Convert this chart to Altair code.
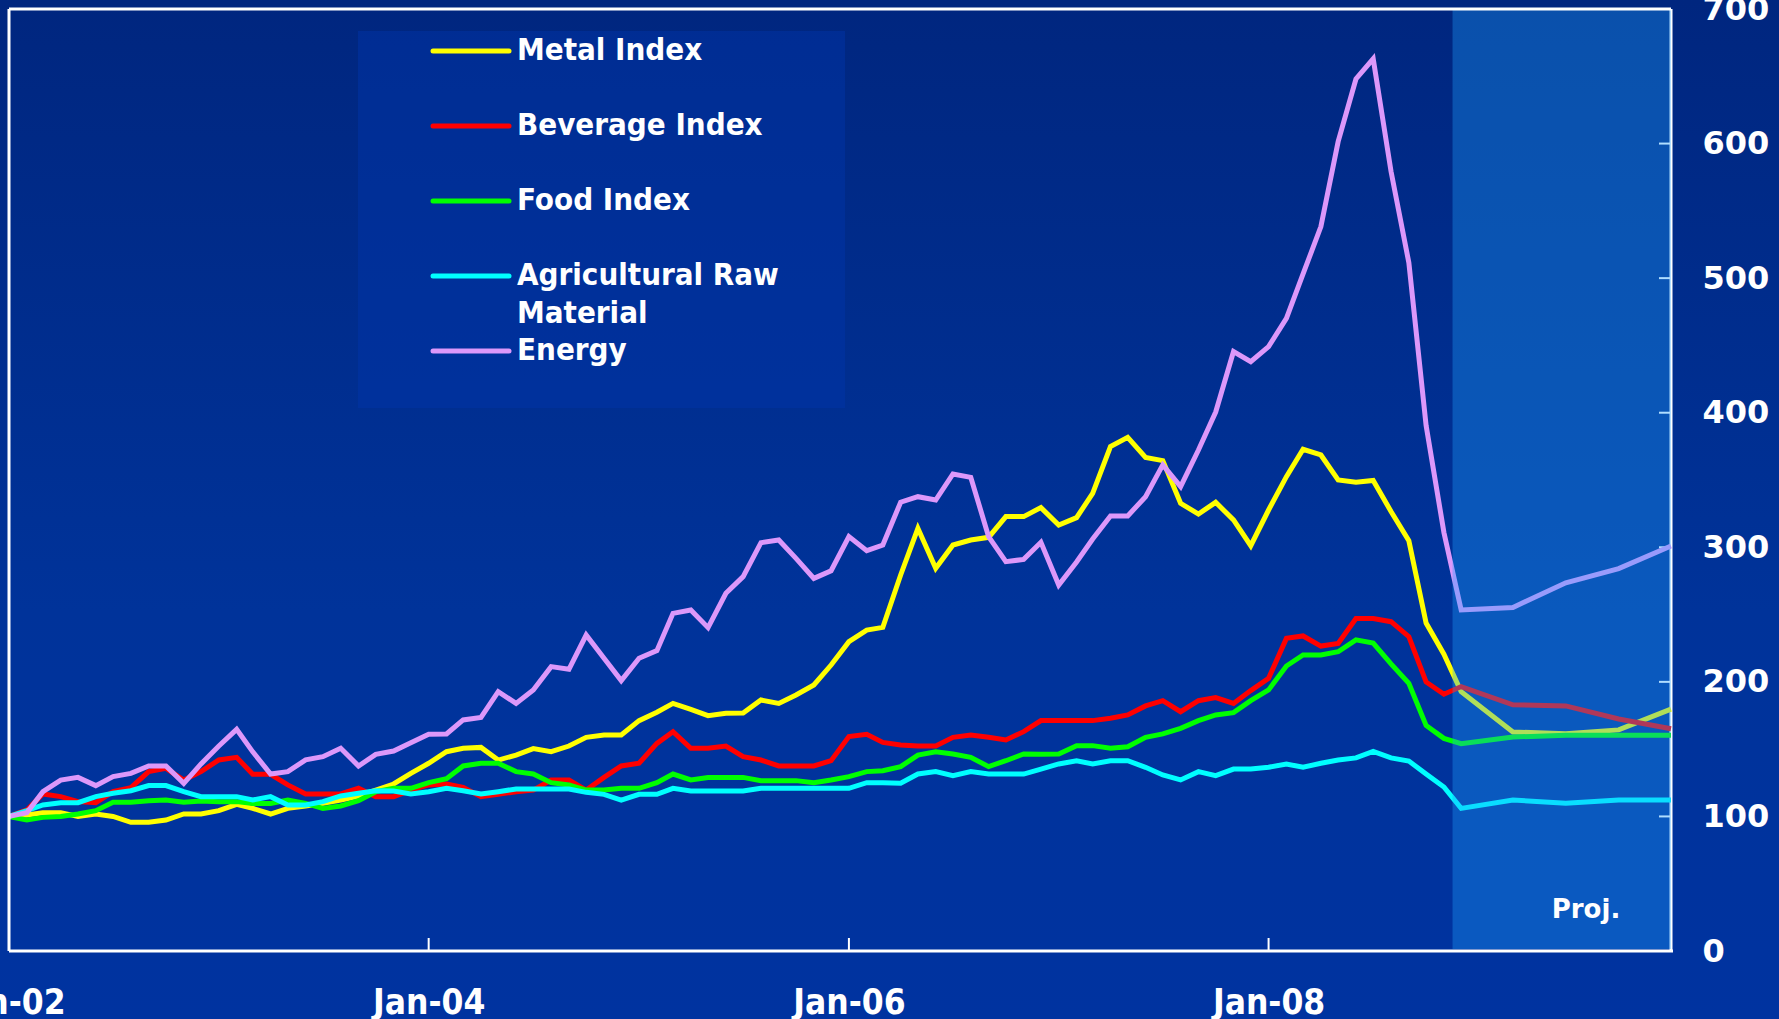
import altair as alt
import pandas as pd

# ---------------- data ----------------
actual_dates = pd.date_range("2002-01-01", "2008-11-01", freq="MS")  # monthly, 83 points
proj_dates = pd.to_datetime(["2008-12-01", "2009-03-01", "2009-06-01", "2009-09-01", "2009-12-01"])

metal = [100, 101.1, 102.8, 102.8, 100, 101.8, 100, 95.6, 95.6, 97.3, 101.8, 101.8,
         104.3, 109, 106, 101.8, 106, 107.8, 109.7, 112.2, 115.2, 119.6, 124.1, 132,
         139.5, 148.1, 150.6, 151.3, 141.9, 145.6, 150.4, 148.1, 152.3, 158.8, 160.5, 160.5,
         171.2, 177.4, 184, 179.6, 174.9, 176.6, 176.9, 186.5, 184, 190.2, 197.7, 212.5,
         229.9, 238.5, 240.5, 279.4, 314.1, 284.4, 301.7, 305.4, 307.4, 322.8, 322.8, 329.5,
         316.6, 322, 340.1, 374.8, 381.7, 366.8, 364.4, 332.7, 324.7, 333.4, 320.3, 301.2,
         327.7, 352.5, 372.8, 368.6, 350, 348.3, 349.7, 326.6, 304.9, 243.7, 220.6]
metal_proj = [192.7, 162.8, 161.4, 164.3, 179.7]

beverage = [100, 104.8, 116.7, 114.7, 111, 110.2, 118.4, 121.4, 133.3, 135.7, 127, 133.3,
            142, 143.9, 131.3, 131.3, 123.4, 116.7, 116.7, 116.7, 120.9, 114.7, 114.7, 119.6,
            123.4, 124.1, 121.6, 114.7, 116.4, 118.4, 119.6, 127.1, 127.1, 119.6, 129, 137.5,
            139.5, 154.3, 163, 150.6, 150.6, 152.3, 144.4, 141.9, 137.5, 137.5, 137.5, 141.4,
            159.3, 161, 155, 153.1, 152.3, 152.3, 158.8, 160.5, 158.8, 156.8, 163, 171.2,
            171.2, 171.2, 171.2, 172.9, 175.4, 182.1, 186, 177.8, 186, 188.3, 184, 193.5,
            202.6, 232.3, 234.1, 226.6, 228.6, 247.1, 247.1, 244.7, 233.6, 199.9, 190.8]
beverage_proj = [196.5, 183, 182.1, 172.4, 165.2]

food = [100, 97.3, 99.3, 100, 101.8, 104.3, 110.5, 110.5, 111.7, 112.2, 110.5, 111.5,
        111, 111, 109.7, 109.7, 112.2, 109.7, 106, 107.8, 111.7, 118.4, 120.9, 120.9,
        125.1, 128, 137.5, 139.5, 139.5, 133.3, 131.5, 125.1, 123.4, 119.6, 119.6, 120.9,
        120.9, 125.1, 131.5, 127.1, 129, 129, 129, 126.6, 126.6, 126.6, 125.1, 127.1,
        129.6, 133.3, 134, 137, 145.6, 148.1, 146.4, 143.9, 137, 141.4, 146.4, 146.2,
        146.4, 152.6, 152.6, 150.6, 151.8, 158.8, 161.3, 165.5, 171.2, 175.4, 177.1, 186,
        194, 211.8, 220, 220, 222.4, 231.2, 228.8, 213.4, 198.9, 167.6, 158]
food_proj = [154.1, 159, 160.4, 160.4, 160.4]

agri = [100, 104.3, 108.5, 110.2, 110.2, 114.7, 117.2, 119.1, 122.9, 122.9, 118.4, 114.7,
        114.7, 114.7, 112.2, 114.7, 108.5, 108.5, 111, 115.2, 117.2, 119.1, 118.9, 116.7,
        118.4, 120.9, 119.1, 116.7, 118.4, 120.4, 120.4, 120.4, 120.4, 117.9, 116.4, 112.2,
        116.4, 116.4, 120.9, 118.9, 118.9, 118.9, 118.9, 120.9, 120.9, 120.9, 120.9, 120.9,
        120.9, 125.1, 125.1, 124.6, 131.5, 133.3, 130.3, 133.3, 131.5, 131.5, 131.5, 135.2,
        139, 141.4, 139, 141.4, 141.4, 136.5, 130.8, 127.1, 133.3, 130.3, 135.2, 135.2,
        136.5, 139, 136.5, 139.5, 141.9, 143.5, 148.4, 143.5, 141.1, 131.5, 121.9]
agri_proj = [106, 112.2, 109.8, 112.2, 112.2]

energy = [100, 102.8, 118.4, 127, 129, 122.9, 129.6, 132, 137.5, 137.5, 124.6, 139,
          152.3, 164.7, 148, 131.5, 133.3, 142, 144.4, 150.6, 137.5, 146.1, 148.6, 154.8,
          161, 161.3, 171.7, 173.6, 192.7, 184, 194, 211.3, 209.3, 234.8, 217.5, 200.9,
          217.5, 223.2, 250.9, 253.4, 240.3, 265.8, 278.2, 303.4, 305.4, 291.8, 276.9, 282.6,
          307.9, 297.5, 301.7, 333.5, 337.6, 335.1, 354.5, 352, 307.9, 289.3, 291, 303.7,
          272, 289.1, 306.2, 323.3, 323.3, 337.6, 361.2, 345.1, 372.3, 400.5, 445.4, 437.9,
          449.1, 470.1, 503.1, 538.3, 601.4, 648, 663, 579.3, 511.5, 390.5, 311]
energy_proj = [253.4, 255.3, 273.6, 284.2, 301]

series_names = ["Metal Index", "Beverage Index", "Food Index", "Agricultural Raw Material", "Energy"]
series_colors = ["#ffff00", "#ff0000", "#00ff00", "#00ffff", "#dc98fa"]
series_actual = [metal, beverage, food, agri, energy]
series_proj = [metal_proj, beverage_proj, food_proj, agri_proj, energy_proj]

legend_lines = ["Metal Index", "Beverage Index", "Food Index", "Agricultural Raw", "Material", "Energy"]
legend_slots = [0, 1, 2, 3, 3.5, 4]
swatch_slots = [0, 1, 2, 3, 4]

x_tick_dates = pd.to_datetime(["2004-01-01", "2006-01-01", "2008-01-01"])
y_tick_values = [100, 200, 300, 400, 500, 600]

proj_start = pd.to_datetime(["2008-11-16"])
proj_end = pd.to_datetime(["2009-12-01"])

# ---------------- layout ----------------
W, H = 1662, 942
PAD = {"left": 9, "top": 9, "right": 108, "bottom": 68}
COND = "DejaVu Sans Condensed, Liberation Sans Narrow, Tahoma, sans-serif"
WIDE = "DejaVu Sans, Verdana, sans-serif"

X = alt.X(
    "date:T",
    scale=alt.Scale(domain=[alt.DateTime(year=2002, month=1, date=1),
                            alt.DateTime(year=2009, month=12, date=1)]),
    axis=alt.Axis(
        values=[alt.DateTime(year=y, month=1, date=1) for y in (2002, 2004, 2006, 2008)],
        format="%b-%y", title=None, grid=False, ticks=False, domain=False, zindex=5,
        labelColor="white", labelFont=COND, labelFontWeight="bold", labelFontSize=35,
        labelBaseline="middle", labelPadding=51, labelFlush=False, labelOverlap=False,
    ),
)
Y = alt.Y(
    "value:Q",
    scale=alt.Scale(domain=[0, 700], nice=False),
    axis=alt.Axis(
        orient="right", values=list(range(0, 701, 100)), title=None, grid=False,
        ticks=False, domain=False, zindex=5, labelColor="white", labelFont=WIDE,
        labelFontWeight="bold", labelFontSize=32, labelPadding=31, labelAlign="left",
        labelFlush=False, labelOverlap=False,
    ),
)

one = pd.DataFrame({"k": [0]})

bg = alt.Chart(one).mark_rect(
    color=alt.LinearGradient(
        gradient="linear",
        stops=[alt.GradientStop(color="#00267f", offset=0),
               alt.GradientStop(color="#00339a", offset=0.6),
               alt.GradientStop(color="#0033a0", offset=1)],
        x1=0, x2=0, y1=0, y2=1),
).encode(x=alt.value(-PAD["left"]), x2=alt.value(W + PAD["right"]),
         y=alt.value(-PAD["top"]), y2=alt.value(H + PAD["bottom"]))

legend_box = alt.Chart(one).mark_rect(color="#0036aa", opacity=0.45).encode(
    x=alt.value(349), x2=alt.value(836), y=alt.value(22), y2=alt.value(399))

ytick_df = pd.DataFrame({"value": y_tick_values})
yticks = alt.Chart(ytick_df).mark_rule(color="white", strokeWidth=2).encode(
    y=Y, x=alt.value(W - 12), x2=alt.value(W))

right_frame = alt.Chart(one).mark_rule(color="white", strokeWidth=3).encode(
    x=alt.value(W), y=alt.value(0), y2=alt.value(H))

line_layers = []
for name, col, act, prj in zip(series_names, series_colors, series_actual, series_proj):
    df = pd.DataFrame({
        "date": list(actual_dates) + list(proj_dates),
        "value": list(act) + list(prj),
        "series": name,
    })
    line_layers.append(
        alt.Chart(df).mark_line(color=col, strokeWidth=5, strokeJoin="miter").encode(x=X, y=Y)
    )

shade_df = pd.DataFrame({"date": proj_start, "date_end": proj_end})
shade = alt.Chart(shade_df).mark_rect(color="#1ea0ff", opacity=0.35).encode(
    x=X, x2="date_end:T", y=alt.value(0), y2=alt.value(H - 2))

frame_top = alt.Chart(one).mark_rule(color="white", strokeWidth=3).encode(
    x=alt.value(0), x2=alt.value(W), y=alt.value(0))
frame_left = alt.Chart(one).mark_rule(color="white", strokeWidth=3).encode(
    x=alt.value(0), y=alt.value(0), y2=alt.value(H))
frame_bottom = alt.Chart(one).mark_rule(color="white", strokeWidth=3).encode(
    x=alt.value(0), x2=alt.value(W + 2), y=alt.value(H))

xtick_df = pd.DataFrame({"date": x_tick_dates})
xticks = alt.Chart(xtick_df).mark_rule(color="white", strokeWidth=2).encode(
    x=X, y=alt.value(H - 13), y2=alt.value(H))

sw_df = pd.DataFrame({"slot": swatch_slots, "col": series_colors})
swatches = alt.Chart(sw_df).transform_calculate(py="42 + datum.slot * 75").mark_rule(
    strokeWidth=5, strokeCap="round").encode(
    x=alt.value(424), x2=alt.value(500),
    y=alt.Y("py:Q", scale=None, axis=None),
    color=alt.Color("col:N", scale=None, legend=None))

lt_df = pd.DataFrame({"slot": legend_slots, "label": legend_lines})
legend_text = alt.Chart(lt_df).transform_calculate(py="42 + datum.slot * 75").mark_text(
    align="left", baseline="middle", color="white", font=COND, fontWeight="bold",
    fontSize=31).encode(
    x=alt.value(508), y=alt.Y("py:Q", scale=None, axis=None), text="label:N")

proj_text = alt.Chart(one).mark_text(
    text="Proj.", align="center", baseline="alphabetic", color="white",
    font=WIDE, fontWeight="bold", fontSize=26).encode(
    x=alt.value(1577), y=alt.value(909))

chart = alt.layer(
    bg, legend_box, yticks, right_frame, *line_layers, shade,
    frame_top, frame_left, frame_bottom, xticks, swatches, legend_text, proj_text,
).properties(
    width=W, height=H,
    autosize=alt.AutoSizeParams(type="none"),
    padding=PAD,
    background="#0033a0",
).configure_view(stroke=None)

chart.save("out.html", embed_options={"renderer": "svg", "actions": False})
